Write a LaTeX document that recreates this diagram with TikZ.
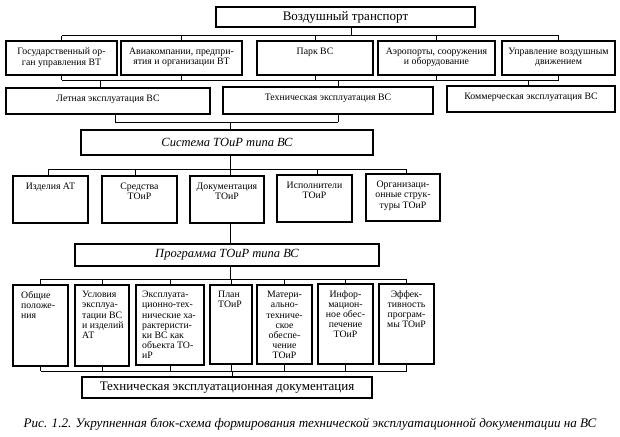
\documentclass[tikz,border=0pt]{standalone}
\usepackage{fontspec}
\setmainfont{Liberation Serif}
\newcommand\boxat[5]{\node[box, minimum width={(#4-#2)*1pt}, minimum height={(#5-#3)*1pt}] (#1) at ({(#2+#4)/2},{(#3+#5)/2}) {};}
\begin{document}
\begin{tikzpicture}[x=1pt,y=-1pt,
  box/.style={draw, line width=1.1pt, inner sep=0pt, outer sep=0pt},
  ln/.style={line width=1pt},
  tbig/.style={font=\fontsize{13}{15}\selectfont, inner sep=0pt},
  tit/.style={font=\itshape\fontsize{12.5}{14}\selectfont, inner sep=0pt},
  tsm/.style={font=\fontsize{9.8}{10.2}\selectfont, align=center, inner sep=0pt},
  tfl/.style={font=\fontsize{9.8}{10.2}\selectfont, align=left, inner sep=0pt},
  tcap/.style={font=\itshape\fontsize{13.1}{15}\selectfont, inner sep=0pt}]
\useasboundingbox (0,0) rectangle (620,436);
\fill[white] (0,0) rectangle (620,436);

% --- top box
\boxat{top}{216}{7}{475}{27}
\node[tbig] (topt) at (top.center) {Воздушный транспорт};

% --- row 2
\boxat{g1}{6}{41}{117}{75}
\boxat{g2}{121}{41}{242}{75}
\boxat{g3}{257}{41}{373}{75}
\boxat{g4}{378}{41}{495}{75}
\boxat{g5}{502}{41}{615}{75}
\node[tsm, anchor=north] (g1t) at ([yshift=-7pt]g1.north) {Государственный ор-\\ган управления ВТ};
\node[tsm, anchor=north] (g2t) at ([yshift=-7pt]g2.north) {Авиакомпании, предпри-\\ятия и организации ВТ};
\node[tsm, anchor=north] (g3t) at ([yshift=-7pt]g3.north) {Парк ВС};
\node[tsm, anchor=north] (g4t) at ([yshift=-7pt]g4.north) {Аэропорты, сооружения\\и оборудование};
\node[tsm, anchor=north] (g5t) at ([yshift=-7pt]g5.north) {Управление воздушным\\движением};

% --- row 3
\boxat{r1}{6}{88}{210}{114}
\boxat{r2}{223}{87}{433}{114}
\boxat{r3}{447}{86}{615}{112}
\node[tsm, anchor=north] (r1t) at ([yshift=-7pt]r1.north) {Летная эксплуатация ВС};
\node[tsm, anchor=north] (r2t) at ([yshift=-7pt]r2.north) {Техническая эксплуатация ВС};
\node[tsm, anchor=north] (r3t) at ([yshift=-7pt]r3.north) {Коммерческая эксплуатация ВС};

% --- Система
\boxat{s}{81}{130}{373}{155}
\node[tit] (st) at (s.center) {Система ТОиР типа ВС};

% --- row 4
\boxat{c1}{13}{176}{88}{223}
\boxat{c2}{102}{176}{177}{223}
\boxat{c3}{190}{176}{264}{223}
\boxat{c4}{277}{175}{352}{222}
\boxat{c5}{366}{174}{440}{221}
\node[tsm, anchor=north] (c1t) at ([yshift=-7pt]c1.north) {Изделия АТ};
\node[tsm, anchor=north] (c2t) at ([yshift=-7pt]c2.north) {Средства\\ТОиР};
\node[tsm, anchor=north] (c3t) at ([yshift=-7pt]c3.north) {Документация\\ТОиР};
\node[tsm, anchor=north] (c4t) at ([yshift=-7pt]c4.north) {Исполнители\\ТОиР};
\node[tsm, anchor=north] (c5t) at ([yshift=-7pt]c5.north) {Организаци-\\онные струк-\\туры ТОиР};

% --- Программа
\boxat{p}{75}{244}{379}{266}
\node[tit] (pt) at (p.center) {Программа ТОиР типа ВС};

% --- row 5
\boxat{d1}{13}{285}{68}{366}
\boxat{d2}{75}{285}{129}{366}
\boxat{d3}{136}{285}{204}{365}
\boxat{d4}{210}{285}{252}{364}
\boxat{d5}{257}{285}{312}{364}
\boxat{d6}{318}{284}{373}{364}
\boxat{d7}{379}{284}{434}{364}
\node[tfl, anchor=north west] (d1t) at ([xshift=8pt,yshift=-6pt]d1.north west) {Общие\\положе-\\ния};
\node[tfl, anchor=north west] (d2t) at ([xshift=7pt,yshift=-6pt]d2.north west) {Условия\\эксплуа-\\тации ВС\\и изделий\\АТ};
\node[tfl, anchor=north west] (d3t) at ([xshift=6pt,yshift=-6pt]d3.north west) {Эксплуата-\\ционно-тех-\\нические ха-\\рактеристи-\\ки ВС как\\объекта ТО-\\иР};
\node[tfl, anchor=north west] (d4t) at ([xshift=8pt,yshift=-6pt]d4.north west) {План\\ТОиР};
\node[tsm, anchor=north] (d5t) at ([yshift=-6pt]d5.north) {Матери-\\ально-\\техниче-\\ское\\обеспе-\\чение\\ТОиР};
\node[tsm, anchor=north] (d6t) at ([yshift=-6pt]d6.north) {Инфор-\\мацион-\\ное обес-\\печение\\ТОиР};
\node[tsm, anchor=north] (d7t) at ([yshift=-6pt]d7.north) {Эффек-\\тивность\\програм-\\мы ТОиР};

% --- bottom box
\boxat{e}{82}{377}{372}{398}
\node[tbig] (et) at (e.center) {Техническая эксплуатационная документация};

% --- caption
\node[tcap, anchor=base] (cap) at (310,427) {Рис. 1.2. Укрупненная блок-схема формирования технической эксплуатационной документации на ВС};

% --- connectors
\coordinate (bA) at (0,36);
\coordinate (bB) at (0,80);
\coordinate (bC) at (0,122);
\coordinate (bD) at (0,169);
\coordinate (bE) at (0,279);
\coordinate (bF) at (0,371);

% bus A
\draw[ln] (g1.north |- bA) -- (g5.north |- bA);
\draw[ln] ([xshift=6pt]top.south) -- ([xshift=6pt]top.south |- bA);
\foreach \n in {g1,g2,g3,g4,g5}{\draw[ln] (\n.north) -- (\n.north |- bA);}
% bus B
\draw[ln] (g1.south |- bB) -- (g5.south |- bB);
\foreach \n in {g1,g2,g3,g4,g5}{\draw[ln] (\n.south) -- (\n.south |- bB);}
\draw[ln] ([xshift=-8pt]r1.north) -- ([xshift=-8pt]r1.north |- bB);
\draw[ln] ([xshift=10pt]r2.north) -- ([xshift=10pt]r2.north |- bB);
\draw[ln] ([xshift=-3pt]r3.north) -- ([xshift=-3pt]r3.north |- bB);
% bus C
\draw[ln] ([xshift=7pt]r1.south |- bC) -- ([xshift=10pt]r2.south |- bC);
\draw[ln] ([xshift=7pt]r1.south) -- ([xshift=7pt]r1.south |- bC);
\draw[ln] ([xshift=10pt]r2.south) -- ([xshift=10pt]r2.south |- bC);
\draw[ln] ([xshift=3pt]s.north) -- ([xshift=3pt]s.north |- bC);
% bus D
\draw[ln] ([xshift=-2pt]c1.north |- bD) -- ([xshift=3pt]c5.north |- bD);
\draw[ln] ([xshift=3pt]s.south) -- ([xshift=3pt]s.south |- bD);
\draw[ln] ([xshift=-2pt]c1.north) -- ([xshift=-2pt]c1.north |- bD);
\draw[ln] ([xshift=-4pt]c2.north) -- ([xshift=-4pt]c2.north |- bD);
\draw[ln] ([xshift=3pt]c3.north) -- ([xshift=3pt]c3.north |- bD);
\draw[ln] ([xshift=3pt]c4.north) -- ([xshift=3pt]c4.north |- bD);
\draw[ln] ([xshift=3pt]c5.north) -- ([xshift=3pt]c5.north |- bD);
% c3 -> p
\draw[ln] ([xshift=3pt]c3.south) -- ([xshift=3pt]p.north);
% bus E
\draw[ln] (d1.north |- bE) -- (d7.north |- bE);
\draw[ln] ([xshift=3pt]p.south) -- ([xshift=3pt]p.south |- bE);
\foreach \n in {d1,d2,d3,d4,d5,d6,d7}{\draw[ln] (\n.north) -- (\n.north |- bE);}
% bus F
\draw[ln] (d1.south |- bF) -- (d7.south |- bF);
\foreach \n in {d1,d2,d3,d4,d5,d6,d7}{\draw[ln] (\n.south) -- (\n.south |- bF);}
\draw[ln] ([xshift=5pt]e.north) -- ([xshift=5pt]e.north |- bF);
\end{tikzpicture}
\end{document}
